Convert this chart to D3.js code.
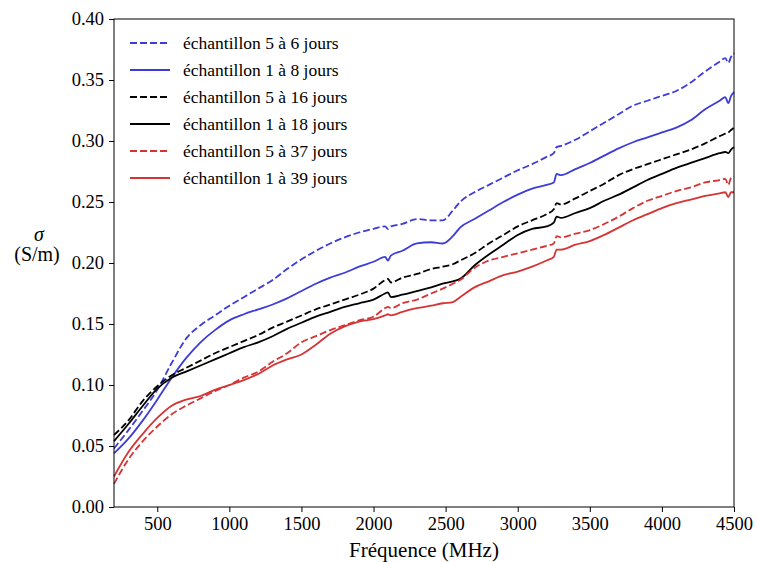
<!DOCTYPE html>
<html><head><meta charset="utf-8">
<script src="https://cdn.jsdelivr.net/npm/d3@7"></script>
<style>
body{margin:0;background:#fff;}
text{font-family:"Times New Roman","Liberation Serif",Tinos,"DejaVu Serif","Noto Serif",serif;fill:#000;}
</style></head>
<body><svg id="c" width="757" height="562"></svg>
<script>
const freq = [200,300,400,500,600,700,800,900,1000,1100,1200,1300,1400,1500,1600,1700,1800,1900,2000,2080,2100,2120,2200,2300,2400,2480,2550,2600,2700,2800,2900,3000,3100,3200,3250,3270,3300,3400,3500,3600,3700,3800,3900,4000,4100,4200,4300,4400,4440,4460,4480,4500];

const ech5_6j = [0.048,0.063,0.079,0.096,0.118,0.138,0.149,0.157,0.165,0.172,0.179,0.186,0.195,0.203,0.210,0.216,0.221,0.225,0.228,0.230,0.228,0.230,0.232,0.236,0.235,0.235,0.243,0.250,0.258,0.264,0.270,0.276,0.281,0.287,0.290,0.295,0.296,0.301,0.308,0.315,0.322,0.329,0.333,0.337,0.341,0.348,0.357,0.365,0.368,0.364,0.369,0.372];
const ech1_8j = [0.044,0.056,0.071,0.088,0.106,0.122,0.135,0.145,0.153,0.158,0.162,0.166,0.171,0.177,0.183,0.188,0.192,0.197,0.201,0.205,0.202,0.206,0.210,0.216,0.217,0.216,0.222,0.229,0.236,0.243,0.250,0.256,0.261,0.264,0.266,0.273,0.272,0.277,0.282,0.288,0.294,0.299,0.303,0.307,0.311,0.317,0.326,0.333,0.336,0.331,0.337,0.340];
const ech5_16j = [0.059,0.071,0.087,0.099,0.108,0.114,0.120,0.126,0.131,0.136,0.141,0.147,0.152,0.157,0.162,0.166,0.170,0.174,0.179,0.186,0.187,0.184,0.188,0.191,0.195,0.197,0.199,0.202,0.208,0.216,0.223,0.230,0.235,0.240,0.244,0.249,0.248,0.253,0.259,0.265,0.272,0.277,0.281,0.285,0.289,0.293,0.298,0.304,0.306,0.307,0.309,0.311];
const ech1_18j = [0.054,0.068,0.083,0.097,0.106,0.111,0.116,0.121,0.126,0.131,0.135,0.140,0.146,0.151,0.156,0.160,0.164,0.167,0.170,0.175,0.176,0.172,0.174,0.177,0.180,0.183,0.185,0.187,0.198,0.207,0.215,0.223,0.228,0.230,0.233,0.238,0.237,0.241,0.245,0.251,0.256,0.262,0.268,0.273,0.278,0.282,0.286,0.290,0.291,0.290,0.293,0.295];
const ech5_37j = [0.019,0.039,0.054,0.066,0.076,0.083,0.089,0.095,0.100,0.106,0.111,0.119,0.126,0.135,0.140,0.145,0.149,0.153,0.156,0.163,0.164,0.163,0.167,0.170,0.175,0.179,0.183,0.186,0.196,0.202,0.205,0.208,0.211,0.214,0.216,0.222,0.221,0.224,0.227,0.232,0.238,0.245,0.251,0.255,0.259,0.262,0.266,0.268,0.269,0.264,0.270,0.271];
const ech1_39j = [0.025,0.045,0.060,0.073,0.083,0.088,0.091,0.096,0.100,0.104,0.109,0.116,0.121,0.125,0.133,0.142,0.148,0.152,0.154,0.157,0.158,0.157,0.160,0.163,0.165,0.167,0.168,0.172,0.180,0.185,0.190,0.193,0.197,0.202,0.205,0.211,0.211,0.215,0.218,0.223,0.229,0.235,0.240,0.245,0.249,0.252,0.255,0.257,0.258,0.254,0.258,0.258];

const seriesNames = ["échantillon 5 à 6 jours","échantillon 1 à 8 jours","échantillon 5 à 16 jours","échantillon 1 à 18 jours","échantillon 5 à 37 jours","échantillon 1 à 39 jours"];
const seriesValues = [ech5_6j, ech1_8j, ech5_16j, ech1_18j, ech5_37j, ech1_39j];
const seriesColors = ["#3c3cd8","#3c3cd8","#000000","#000000","#d63434","#d63434"];
const seriesDashed = [true,false,true,false,true,false];

const xTicks = [500,1000,1500,2000,2500,3000,3500,4000,4500];
const yTicks = [0,0.05,0.10,0.15,0.20,0.25,0.30,0.35,0.40];

const FONT = '"Times New Roman","Liberation Serif",Tinos,"DejaVu Serif","Noto Serif",serif';
const svg = d3.select("#c");
const L=114, R=734, T=19, B=507;
const x = d3.scaleLinear().domain([200,4500]).range([L,R]);
const y = d3.scaleLinear().domain([0,0.40]).range([B,T]);

const line = d3.line().x(d=>x(d[0])).y(d=>y(d[1])).curve(d3.curveMonotoneX);
seriesValues.forEach((vals,i)=>{
  svg.append("path")
    .attr("d", line(freq.map((f,j)=>[f,vals[j]])))
    .attr("fill","none")
    .attr("stroke",seriesColors[i])
    .attr("stroke-width",1.8)
    .attr("stroke-dasharray",seriesDashed[i]?"7,3":null);
});

svg.append("rect").attr("x",L).attr("y",T).attr("width",R-L).attr("height",B-T)
  .attr("fill","none").attr("stroke","#000").attr("stroke-width",1);

const xa = svg.append("g").attr("transform",`translate(0,${B})`)
  .call(d3.axisBottom(x).tickValues(xTicks).tickSize(5).tickPadding(5).tickFormat(d3.format("d")));
const ya = svg.append("g").attr("transform",`translate(${L},0)`)
  .call(d3.axisLeft(y).tickValues(yTicks).tickSize(5).tickPadding(5).tickFormat(d3.format(".2f")));
[xa,ya].forEach(a=>{
  a.attr("font-family",FONT);
  a.select(".domain").remove();
  a.selectAll("text").attr("font-size",18.5).style("font-family",FONT);
  a.selectAll("line").attr("stroke","#000");
});

svg.append("text").attr("x",(L+R)/2).attr("y",557).attr("text-anchor","middle")
  .attr("font-size",21).style("font-family",FONT).text("Fréquence (MHz)");
svg.append("text").attr("x",39).attr("y",241).attr("text-anchor","middle")
  .attr("font-size",20).attr("font-style","italic").style("font-family",FONT).text("σ");
svg.append("text").attr("x",37).attr("y",261).attr("text-anchor","middle")
  .attr("font-size",20).style("font-family",FONT).text("(S/m)");

const lg = svg.append("g");
seriesNames.forEach((n,i)=>{
  const yy = 43 + i*27;
  lg.append("line").attr("x1",130).attr("x2",170).attr("y1",yy).attr("y2",yy)
    .attr("stroke",seriesColors[i]).attr("stroke-width",1.8)
    .attr("stroke-dasharray",seriesDashed[i]?"7,3":null);
  lg.append("text").attr("x",183).attr("y",yy+6).attr("font-size",17.5).style("font-family",FONT).text(n);
});
</script></body></html>
